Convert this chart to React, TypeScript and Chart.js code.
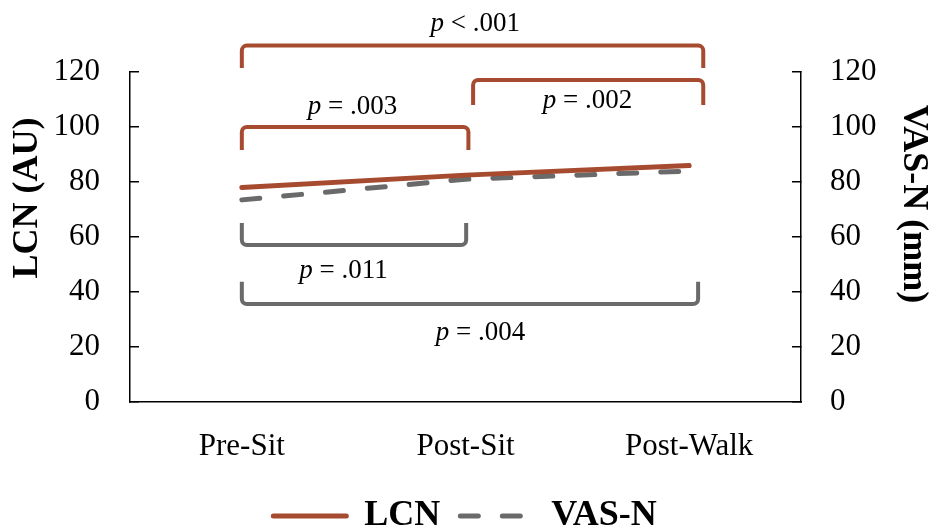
import { useEffect, useRef } from 'react';
import { Chart, registerables } from 'chart.js';

Chart.register(...registerables);

// ---- data ----
const categories = ['Pre-Sit', 'Post-Sit', 'Post-Walk'];
const lcnValues = [78, 82.5, 86];
const vasValues = [73.5, 81, 84];
const yMin = 0;
const yMax = 120;
const yStep = 20;

// significance brackets (x in category index units, y in axis units)
const bracketRest = [' < .001', ' = .002', ' = .003', ' = .011', ' = .004'];
const bracketFrom = [0, 1.034, 0, 0, 0];
const bracketTo = [2.063, 2.063, 1.013, 1.003, 2.04];
const bracketBar = [129.6, 117.1, 100, 57.1, 35.6];
const bracketLegEnd = [121.5, 108, 91.6, 65.1, 43.7];
const bracketLabelX = [1.044, 1.545, 0.495, 0.455, 1.067];
const bracketLabelY = [138.4, 110.4, 108.2, 48.5, 25.8];
const bracketSeries = [0, 0, 0, 1, 1];

const RED = '#A64B2F';
const GRAY = '#6A6A6A';
const seriesColors = [RED, GRAY];
const FONT = '"Liberation Serif", "Times New Roman", serif';
const VAS_DASH = [18, 24];

const annotationPlugin = {
  id: 'annot',
  afterDraw(chart: any) {
    const ctx = chart.ctx as CanvasRenderingContext2D;
    const xs = chart.scales.x;
    const ys = chart.scales.y;
    ctx.save();
    // brackets
    for (let i = 0; i < bracketRest.length; i++) {
      const x1 = xs.getPixelForValue(bracketFrom[i]);
      const x2 = xs.getPixelForValue(bracketTo[i]);
      const yb = ys.getPixelForValue(bracketBar[i]);
      const yl = ys.getPixelForValue(bracketLegEnd[i]);
      const r = 5;
      ctx.strokeStyle = seriesColors[bracketSeries[i]];
      ctx.lineWidth = 4;
      ctx.lineCap = 'butt';
      ctx.lineJoin = 'round';
      ctx.setLineDash([]);
      ctx.beginPath();
      ctx.moveTo(x1, yl);
      ctx.arcTo(x1, yb, x2, yb, r);
      ctx.arcTo(x2, yb, x2, yl, r);
      ctx.lineTo(x2, yl);
      ctx.stroke();

      // label
      const size = 27;
      const cx = xs.getPixelForValue(bracketLabelX[i]);
      const cy = ys.getPixelForValue(bracketLabelY[i]);
      ctx.fillStyle = '#000';
      ctx.textBaseline = 'alphabetic';
      ctx.textAlign = 'left';
      ctx.font = `italic ${size}px ${FONT}`;
      const w1 = ctx.measureText('p').width;
      ctx.font = `${size}px ${FONT}`;
      const w2 = ctx.measureText(bracketRest[i]).width;
      const sx = cx - (w1 + w2) / 2;
      const by = cy + size * 0.34;
      ctx.font = `italic ${size}px ${FONT}`;
      ctx.fillText('p', sx, by);
      ctx.font = `${size}px ${FONT}`;
      ctx.fillText(bracketRest[i], sx + w1, by);
    }

    // axis titles
    const area = chart.chartArea;
    ctx.fillStyle = '#000';
    ctx.font = `bold 36px ${FONT}`;
    ctx.textAlign = 'center';
    ctx.textBaseline = 'middle';
    ctx.save();
    ctx.translate(27.5, area.top + 126);
    ctx.rotate(-Math.PI / 2);
    ctx.fillText('LCN (AU)', 0, 0);
    ctx.restore();
    ctx.save();
    ctx.translate(913, area.top + 132);
    ctx.rotate(Math.PI / 2);
    ctx.fillText('VAS-N (mm)', 0, 0);
    ctx.restore();
    ctx.restore();
  },
};

export default function App() {
  const ref = useRef<HTMLCanvasElement | null>(null);
  useEffect(() => {
    if (!ref.current) return;
    Chart.defaults.color = '#000';
    const yAxisCommon = (position: 'left' | 'right', padding: number, width: number) => ({
      type: 'linear' as const,
      position,
      min: yMin,
      max: yMax,
      grid: { drawOnChartArea: false, color: '#000', lineWidth: 1.5, tickLength: -9 },
      border: { display: true, color: '#000', width: 1.5 },
      ticks: { stepSize: yStep, color: '#000', padding, font: { family: FONT, size: 31 } },
      afterFit: (s: any) => {
        s.width = width;
      },
    });
    const chart = new Chart(ref.current, {
      type: 'line',
      data: {
        labels: categories,
        datasets: [
          {
            label: 'LCN',
            data: lcnValues,
            yAxisID: 'y',
            borderColor: RED,
            backgroundColor: RED,
            borderWidth: 5,
            borderCapStyle: 'round',
            pointRadius: 0,
            tension: 0,
          },
          {
            label: 'VAS-N',
            data: vasValues,
            yAxisID: 'y1',
            borderColor: GRAY,
            backgroundColor: GRAY,
            borderWidth: 5,
            borderDash: VAS_DASH,
            borderCapStyle: 'round',
            pointRadius: 0,
            tension: 0,
          },
        ],
      },
      options: {
        animation: false,
        responsive: true,
        maintainAspectRatio: false,
        events: [],
        layout: { padding: { top: 72, left: 0, right: 0, bottom: -13 } },
        scales: {
          x: {
            type: 'category',
            offset: true,
            grid: { display: false },
            border: { display: true, color: '#000', width: 1.5 },
            ticks: { color: '#000', padding: 18, font: { family: FONT, size: 31 } },
            afterFit: (s: any) => {
              s.height = 76;
            },
          },
          y: yAxisCommon('left', 39, 130),
          y1: yAxisCommon('right', 38, 129),
        },
        plugins: {
          tooltip: { enabled: false },
          legend: {
            position: 'bottom',
            labels: {
              usePointStyle: true,
              pointStyle: 'line',
              pointStyleWidth: 73,
              padding: 20,
              color: '#000',
              font: { family: FONT, size: 36, weight: 'bold' },
              generateLabels: (c: any) => {
                const items = Chart.defaults.plugins.legend.labels.generateLabels(c);
                return items.map((it: any, i: number) => {
                  const ds: any = c.data.datasets[i];
                  return {
                    ...it,
                    pointStyle: 'line',
                    lineWidth: 5,
                    lineCap: 'round',
                    lineDash: ds.borderDash || [],
                    strokeStyle: ds.borderColor,
                    fillStyle: ds.borderColor,
                  };
                });
              },
            },
          },
        },
      },
      plugins: [annotationPlugin],
    });
    return () => chart.destroy();
  }, []);
  return (
    <div style={{ position: 'absolute', left: 0, top: 0, width: 930, height: 531 }}>
      <canvas ref={ref} />
    </div>
  );
}
